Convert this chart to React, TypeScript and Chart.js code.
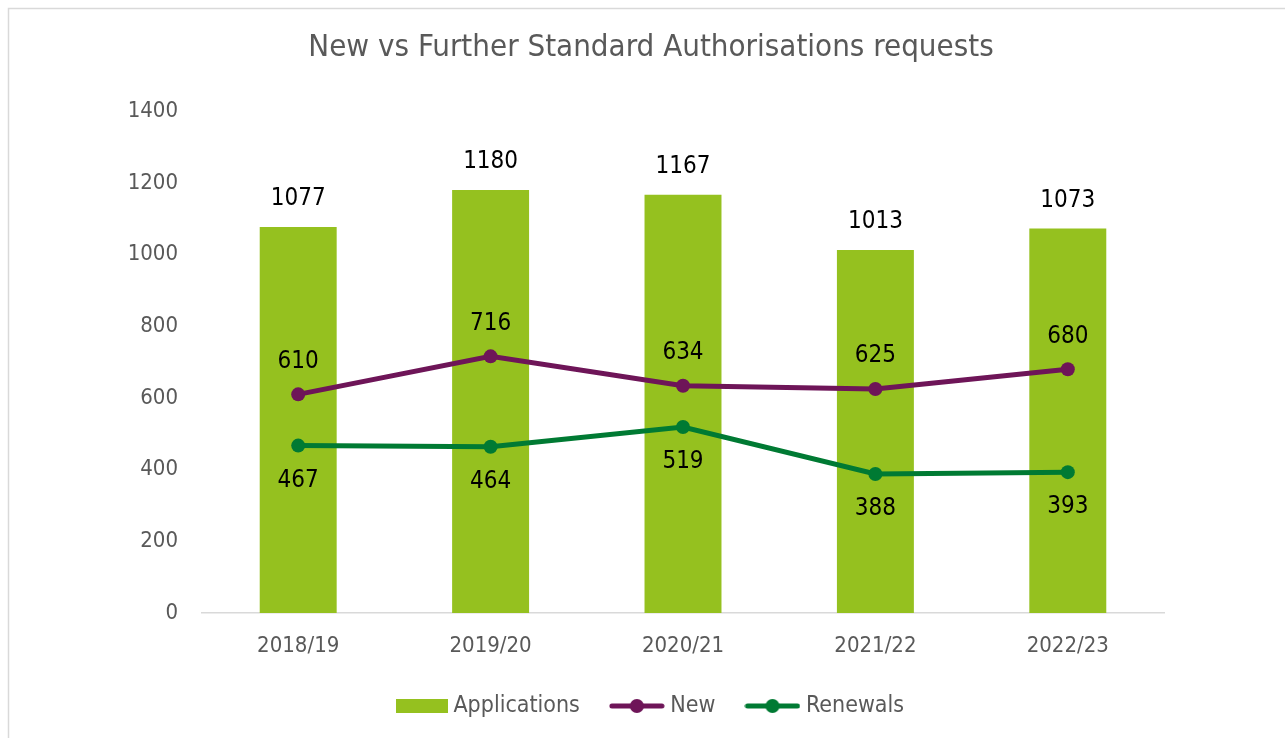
import React, { useEffect, useRef } from "react";
import { Chart, registerables } from "chart.js";

Chart.register(...registerables);

const TITLE = "New vs Further Standard Authorisations requests";
const CATEGORIES = ["2018/19", "2019/20", "2020/21", "2021/22", "2022/23"];
const APPLICATIONS = [1077, 1180, 1167, 1013, 1073];
const NEW_REQUESTS = [610, 716, 634, 625, 680];
const RENEWALS = [467, 464, 519, 388, 393];
const SERIES_NAMES = ["Applications", "New", "Renewals"];
const Y_MIN = 0;
const Y_MAX = 1400;
const Y_STEP = 200;

const FONT = "'DejaVu Sans Condensed', 'DejaVu Sans', sans-serif";
const BAR_COLOR = "#95C11F";
const NEW_COLOR = "#6E1558";
const REN_COLOR = "#007A33";
const TEXT_GRAY = "#595959";

function makeRectIcon(color: string) {
  const c = document.createElement("canvas");
  c.width = 60;
  c.height = 14;
  const x = c.getContext("2d")!;
  x.fillStyle = color;
  x.fillRect(6, 0, 52, 14);
  return c;
}

function makeLineIcon(color: string) {
  const c = document.createElement("canvas");
  c.width = 56;
  c.height = 16;
  const x = c.getContext("2d")!;
  x.strokeStyle = color;
  x.lineWidth = 5;
  x.lineCap = "round";
  x.beginPath();
  x.moveTo(3, 8);
  x.lineTo(53, 8);
  x.stroke();
  x.fillStyle = color;
  x.beginPath();
  x.arc(28, 8, 7, 0, Math.PI * 2);
  x.fill();
  return c;
}

const valueLabels = {
  id: "valueLabels",
  afterDatasetsDraw(chart: any) {
    const ctx = chart.ctx;
    ctx.save();
    ctx.font = `24px ${FONT}`;
    ctx.fillStyle = "#000000";
    ctx.textAlign = "center";
    ctx.textBaseline = "middle";
    chart.data.datasets.forEach((ds: any, i: number) => {
      const meta = chart.getDatasetMeta(i);
      meta.data.forEach((el: any, j: number) => {
        ctx.fillText(String(ds.data[j]), el.x, el.y + ds.labelOffset);
      });
    });
    ctx.restore();
  },
};

const frame = {
  id: "frame",
  beforeDraw(chart: any) {
    const ctx = chart.ctx;
    ctx.save();
    ctx.fillStyle = "#ffffff";
    ctx.fillRect(0, 0, chart.width, chart.height);
    ctx.strokeStyle = "#D9D9D9";
    ctx.lineWidth = 1.5;
    ctx.strokeRect(8.5, 8.5, chart.width + 20, chart.height + 20);
    ctx.restore();
  },
};

export default function App() {
  const ref = useRef<HTMLCanvasElement>(null);

  useEffect(() => {
    const icons = [makeRectIcon(BAR_COLOR), makeLineIcon(NEW_COLOR), makeLineIcon(REN_COLOR)];
    const chart = new Chart(ref.current!, {
      type: "bar",
      data: {
        labels: CATEGORIES,
        datasets: [
          {
            type: "line",
            label: SERIES_NAMES[1],
            data: NEW_REQUESTS,
            borderColor: NEW_COLOR,
            backgroundColor: NEW_COLOR,
            borderWidth: 5,
            pointRadius: 7,
            pointBackgroundColor: NEW_COLOR,
            pointBorderWidth: 0,
            order: 0,
            labelOffset: -33,
          } as any,
          {
            type: "line",
            label: SERIES_NAMES[2],
            data: RENEWALS,
            borderColor: REN_COLOR,
            backgroundColor: REN_COLOR,
            borderWidth: 5,
            pointRadius: 7,
            pointBackgroundColor: REN_COLOR,
            pointBorderWidth: 0,
            order: 1,
            labelOffset: 35,
          } as any,
          {
            type: "bar",
            label: SERIES_NAMES[0],
            data: APPLICATIONS,
            backgroundColor: BAR_COLOR,
            barPercentage: 0.4,
            categoryPercentage: 1,
            order: 2,
            labelOffset: -28,
          } as any,
        ],
      },
      options: {
        animation: false,
        responsive: false,
        maintainAspectRatio: false,
        layout: { padding: { left: 17, right: 0, top: 0, bottom: 10.5 } },
        plugins: {
          tooltip: { enabled: false },
          title: {
            display: true,
            text: TITLE,
            color: TEXT_GRAY,
            font: { family: FONT, size: 31, weight: "normal" },
            padding: { top: 29.5, bottom: 44.5 },
          },
          legend: {
            position: "bottom",
            labels: {
              usePointStyle: true,
              pointStyleWidth: 44,
              boxHeight: 16,
              padding: 35,
              color: TEXT_GRAY,
              font: { family: FONT, size: 23 },
              generateLabels: () =>
                SERIES_NAMES.map((name, i) => ({
                  text: name,
                  pointStyle: icons[i],
                  fillStyle: "transparent",
                  strokeStyle: "transparent",
                  lineWidth: 0,
                  hidden: false,
                  fontColor: TEXT_GRAY,
                  datasetIndex: i,
                })) as any,
            },
          },
        },
        scales: {
          x: {
            grid: { display: false, drawTicks: false },
            border: { display: true, color: "#D9D9D9", width: 1.5 },
            ticks: { color: TEXT_GRAY, font: { family: FONT, size: 22 }, padding: 20 },
            afterFit: (s: any) => {
              s.height = 46.5;
            },
          },
          y: {
            min: Y_MIN,
            max: Y_MAX,
            grid: { display: false, drawTicks: false },
            border: { display: false },
            ticks: {
              stepSize: Y_STEP,
              color: TEXT_GRAY,
              font: { family: FONT, size: 22 },
              padding: 24,
              callback: (v: any) => String(v),
            },
            afterFit: (s: any) => {
              s.width = 185;
            },
          },
          yRight: {
            position: "right",
            display: true,
            grid: { display: false, drawTicks: false },
            border: { display: false },
            ticks: { display: false },
            afterFit: (s: any) => {
              s.width = 121;
            },
          },
        },
      },
      plugins: [frame, valueLabels],
    });
    return () => chart.destroy();
  }, []);

  return (
    <div style={{ position: "fixed", left: 0, top: 0, width: 1285, height: 738, overflow: "hidden", background: "#fff" }}>
      <canvas ref={ref} width={1285} height={738} style={{ display: "block", width: 1285, height: 738 }} />
    </div>
  );
}
